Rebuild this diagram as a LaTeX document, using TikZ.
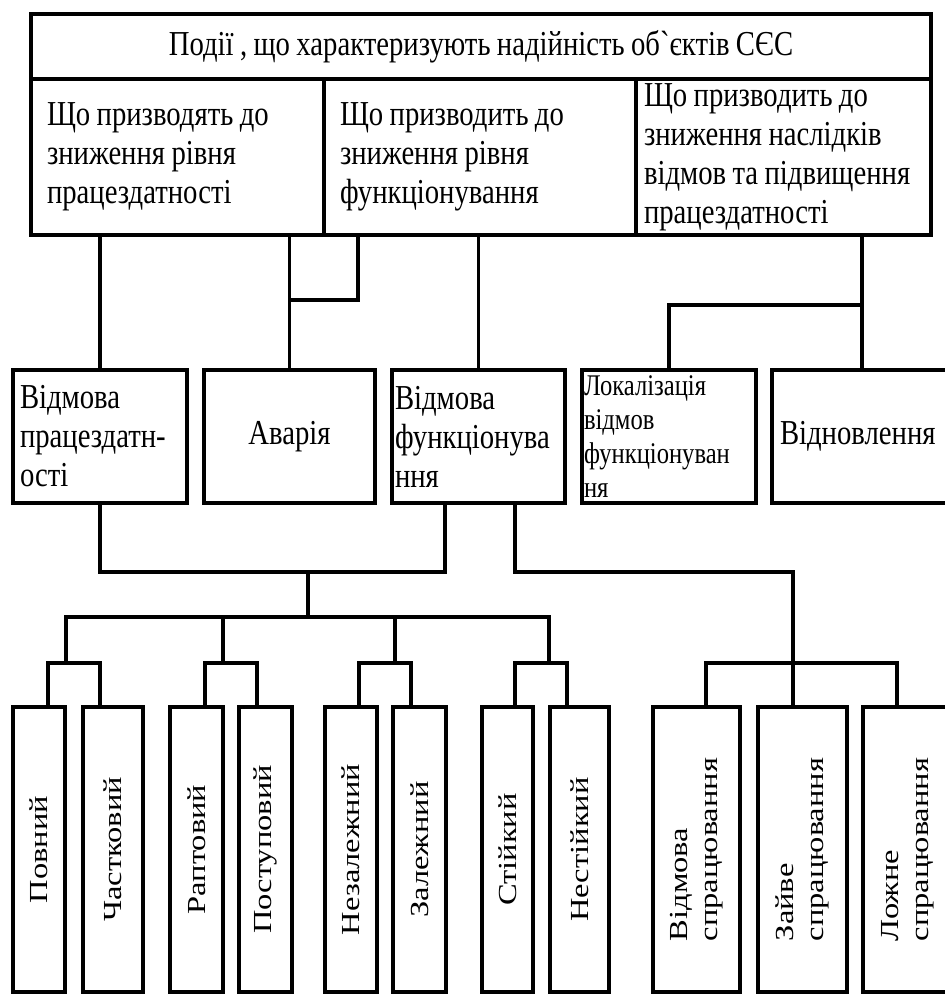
\documentclass[tikz,border=0pt]{standalone}
\usepackage{fontspec}
\setmainfont{Liberation Serif}[FakeStretch=0.82, Ligatures=TeXOff]
\newfontfamily\vertfont{Liberation Serif}[FakeStretch=1.25]
\usetikzlibrary{calc}
\newcommand\boxfont{\fontsize{17.5}{19.5}\selectfont}
\newcommand\smallboxfont{\fontsize{15}{17}\selectfont}
\newcommand\tightspace{\spaceskip=3.2pt plus 1pt minus 1pt\relax}

\begin{document}
\begin{tikzpicture}[
    x=0.5pt, y=-0.5pt,
    every node/.style={font=\boxfont, execute at begin node=\tightspace},
    box/.style={rectangle, draw, line width=1.7pt, inner sep=0pt, align=left},
    colbox/.style={box, inner xsep=8pt, minimum height=78pt},
    midbox/.style={box, minimum height=66.5pt},
    vbox/.style={box, rotate=90, minimum width=142.5pt, font=\vertfont\fontsize{13}{15}\selectfont},
    link/.style={line width=1.7pt}
]
\useasboundingbox (0,0) rectangle (944,997);

% Top: title and three groups
\node[box, align=center, minimum width=450pt, minimum height=32.5pt] (title) at (481,46.5) {Події , що характеризують надійність об`єктів СЄС};
\node[colbox, minimum width=146.5pt, text width=130.5pt] (r1) at (177.5,157) {Що призводять до\\зниження рівня\\працездатності};
\node[colbox, minimum width=156pt, text width=140pt] (r2) at (480,157) {Що призводить до\\зниження рівня\\функціонування};
\node[colbox, inner xsep=4pt, minimum width=147.5pt, text width=139.5pt] (r3) at (783.5,157) {Що призводить до\\зниження наслідків\\відмов та підвищення\\працездатності};

% Middle: events
\node[midbox, inner xsep=3.5pt, minimum width=87pt, text width=80pt] (mb1) at (100,436.5) {Відмова\\працездатн-\\ості};
\node[midbox, align=center, minimum width=85.5pt] (mb2) at (289.5,436.5) {Аварія};
\node[midbox, inner xsep=1.5pt, minimum width=86.5pt, text width=83.5pt] (mb3) at (478.5,436.5) {Відмова\\функціонува\\ння};
\node[midbox, inner xsep=1pt, minimum width=87pt, text width=85pt, font=\smallboxfont] (mb4) at (669,436.5) {Локалізація\\відмов\\функціонуван\\ня};
\node[midbox, inner xsep=4pt, minimum width=90pt, text width=82pt] (mb5) at (862,436.5) {Відновлення};

% Bottom: kinds
\node[vbox, minimum height=26pt] (b1) at (39,849.5) {Повний};
\node[vbox, minimum height=30pt] (b2) at (113,849.5) {Частковий};
\node[vbox, minimum height=26.5pt] (b3) at (196.5,849.5) {Раптовий};
\node[vbox, minimum height=26.5pt] (b4) at (265.5,849.5) {Поступовий};
\node[vbox, minimum height=26pt] (b5) at (351,849.5) {Незалежний};
\node[vbox, minimum height=26.5pt] (b6) at (419.5,849.5) {Залежний};
\node[vbox, minimum height=25.5pt] (b7) at (507.5,849.5) {Стійкий};
\node[vbox, minimum height=29.5pt] (b8) at (579.5,849.5) {Нестійкий};
\node[vbox, minimum height=43.5pt] (b9) at (696.5,849.5) {Відмова\\спрацювання};
\node[vbox, minimum height=44.5pt] (b10) at (802.5,849.5) {Зайве\\спрацювання};
\node[vbox, minimum height=44.5pt] (b11) at (907.5,849.5) {Ложне\\спрацювання};

% Junctions
\coordinate (k1) at (358,300);
\coordinate (k2) at (0,305);
\coordinate (k3) at (308,572);
\coordinate (k4) at (308,617);
\coordinate (g1) at (66,663);
\coordinate (g2) at (223,663);
\coordinate (g3) at (395,663);
\coordinate (g4) at (549,663);
\coordinate (g5) at (793,663);

% Top to middle
\draw[link] (mb1.north |- r1.south) -- (mb1.north);
\draw[link] (mb2.north |- r1.south) -- (mb2.north);
\draw[link] (k1 |- r2.south) -- (k1) -- (k1 -| mb2.north);
\draw[link] (mb3.north |- r2.south) -- (mb3.north);
\draw[link] (mb5.north |- r3.south) -- (mb5.north);
\draw[link] (mb5.north |- k2) -| (mb4.north);

% Middle to bottom
\draw[link] (mb1.south) |- (k3) -| ($(mb3.south)+(-33.5,0)$);
\draw[link] (k3) -- (k4);
\draw[link] (g1) |- (k4) -| (g4);
\draw[link] (g2) -- (g2 |- k4);
\draw[link] (g3) -- (g3 |- k4);
\draw[link] ($(b1.east)+(9,0)$) |- (g1) -| ($(b2.east)+(-13,0)$);
\draw[link] ($(b3.east)+(8.5,0)$) |- (g2) -| ($(b4.east)+(-8.5,0)$);
\draw[link] ($(b5.east)+(8,0)$) |- (g3) -| ($(b6.east)+(-8.5,0)$);
\draw[link] ($(b7.east)+(7.5,0)$) |- (g4) -| ($(b8.east)+(-12.5,0)$);
\draw[link] ($(mb3.south)+(36.5,0)$) |- (g5 |- k3) -- ($(b10.east)+(-9.5,0)$);
\draw[link] ($(b9.east)+(9.5,0)$) |- (g5) -| ($(b11.east)+(-10.5,0)$);

\end{tikzpicture}
\end{document}
